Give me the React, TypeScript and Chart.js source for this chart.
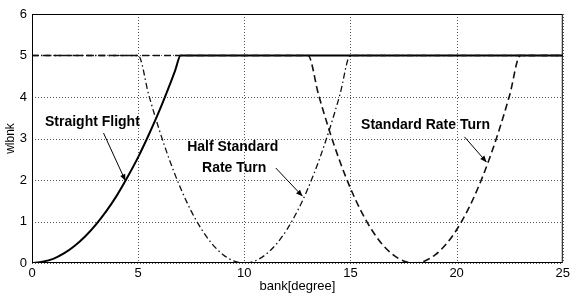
import React, { useEffect, useRef } from "react";
import { Chart, registerables } from "chart.js";
Chart.register(...registerables);

const straightX = [0, 0.5, 1, 1.5, 2, 2.5, 3, 3.5, 4, 4.5, 5, 5.5, 6, 6.5, 6.75, 7, 25];
const straightY = [0, 0.03, 0.1, 0.23, 0.41, 0.64, 0.92, 1.25, 1.63, 2.07, 2.55, 3.09, 3.67, 4.31, 4.65, 5, 5];

const halfX = [0, 5, 5.5, 6, 6.5, 7, 7.5, 8, 8.5, 9, 9.5, 10, 10.5, 11, 11.5, 12, 12.5, 13, 13.5, 14, 14.5, 15, 25];
const halfY = [5, 5, 4.05, 3.2, 2.45, 1.8, 1.25, 0.8, 0.45, 0.2, 0.05, 0, 0.05, 0.2, 0.45, 0.8, 1.25, 1.8, 2.45, 3.2, 4.05, 5, 5];

const stdX = [0, 13, 13.5, 14, 14.5, 15, 15.5, 16, 16.5, 17, 17.5, 18, 18.5, 19, 19.5, 20, 20.5, 21, 21.5, 22, 22.5, 23, 25];
const stdY = [5, 5, 4.05, 3.2, 2.45, 1.8, 1.25, 0.8, 0.45, 0.2, 0.05, 0, 0.05, 0.2, 0.45, 0.8, 1.25, 1.8, 2.45, 3.2, 4.05, 5, 5];

const xTicks = [0, 5, 10, 15, 20, 25];
const yTicks = [0, 1, 2, 3, 4, 5, 6];

const labelTexts = ["Straight Flight", "Half Standard", "Rate Turn", "Standard Rate Turn"];
const labelX = [0.61, 7.31, 8.01, 15.5];
const labelY = [3.4, 2.8, 2.29, 3.33];
const arrowFrom = [[3.37, 3.13], [11.48, 2.29], [20.37, 3.04]];
const arrowTo = [[4.4, 1.98], [12.74, 1.61], [21.41, 2.43]];

const pts = (xs: number[], ys: number[]) => xs.map((x, i) => ({ x, y: ys[i] }));

const FONT = "'Liberation Sans', Arial, sans-serif";

const gridPlugin = {
  id: "dotgrid",
  beforeDatasetsDraw(chart: any) {
    const { ctx, chartArea, scales } = chart;
    ctx.save();
    ctx.strokeStyle = "#555";
    ctx.lineWidth = 1;
    ctx.setLineDash([1, 2]);
    xTicks.forEach((v) => {
      const p = Math.round(scales.x.getPixelForValue(v)) + 0.5;
      ctx.beginPath();
      ctx.moveTo(p, chartArea.top);
      ctx.lineTo(p, chartArea.bottom);
      ctx.stroke();
    });
    yTicks.forEach((v) => {
      const p = Math.round(scales.y.getPixelForValue(v)) + 0.5;
      ctx.beginPath();
      ctx.moveTo(chartArea.left, p);
      ctx.lineTo(chartArea.right, p);
      ctx.stroke();
    });
    ctx.restore();
  },
};

const annotPlugin = {
  id: "annot",
  afterDatasetsDraw(chart: any) {
    const { ctx, chartArea, scales } = chart;
    const xs = scales.x, ys = scales.y;
    ctx.save();
    ctx.strokeStyle = "#000";
    ctx.lineWidth = 1;
    ctx.strokeRect(chartArea.left + 0.5, chartArea.top + 0.5, chartArea.right - chartArea.left - 1, chartArea.bottom - chartArea.top - 1);
    ctx.fillStyle = "#000";
    ctx.font = `bold 14px ${FONT}`;
    ctx.textBaseline = "middle";
    ctx.textAlign = "left";
    labelTexts.forEach((t, i) => {
      ctx.fillText(t, xs.getPixelForValue(labelX[i]), ys.getPixelForValue(labelY[i]));
    });
    ctx.lineWidth = 1;
    arrowFrom.forEach((f, i) => {
      const x1 = xs.getPixelForValue(f[0]), y1 = ys.getPixelForValue(f[1]);
      const x2 = xs.getPixelForValue(arrowTo[i][0]), y2 = ys.getPixelForValue(arrowTo[i][1]);
      ctx.beginPath();
      ctx.moveTo(x1, y1);
      ctx.lineTo(x2, y2);
      ctx.stroke();
      const a = Math.atan2(y2 - y1, x2 - x1);
      const L = 7, w = 0.4;
      ctx.beginPath();
      ctx.moveTo(x2, y2);
      ctx.lineTo(x2 - L * Math.cos(a - w), y2 - L * Math.sin(a - w));
      ctx.lineTo(x2 - L * Math.cos(a + w), y2 - L * Math.sin(a + w));
      ctx.closePath();
      ctx.fill();
    });
    ctx.restore();
  },
};

export default function App() {
  const ref = useRef<HTMLCanvasElement>(null);
  useEffect(() => {
    document.body.style.margin = "0";
    const chart = new Chart(ref.current!, {
      type: "scatter",
      data: {
        datasets: [
          {
            label: "Half Standard Rate Turn",
            data: pts(halfX, halfY),
            showLine: true,
            borderColor: "#111",
            borderWidth: 1.3,
            borderDash: [6, 3, 1.5, 3],
            pointRadius: 0,
            cubicInterpolationMode: "monotone",
          },
          {
            label: "Standard Rate Turn",
            data: pts(stdX, stdY),
            showLine: true,
            borderColor: "#111",
            borderWidth: 1.6,
            borderDash: [7, 4],
            pointRadius: 0,
            cubicInterpolationMode: "monotone",
          },
          {
            label: "Straight Flight",
            data: pts(straightX, straightY),
            showLine: true,
            borderColor: "#000",
            borderWidth: 2,
            pointRadius: 0,
            cubicInterpolationMode: "monotone",
          },
        ],
      },
      options: {
        animation: false,
        responsive: true,
        maintainAspectRatio: false,
        layout: { padding: { top: 14, right: 7, left: 3, bottom: 0 } },
        plugins: { legend: { display: false }, tooltip: { enabled: false } },
        scales: {
          x: {
            type: "linear",
            min: 0,
            max: 25,
            afterBuildTicks: (s: any) => { s.ticks = xTicks.map((v) => ({ value: v })); },
            afterFit: (s: any) => { s.height = 37; },
            ticks: { color: "#000", font: { family: FONT, size: 13 }, padding: 3 },
            grid: { display: false, drawTicks: false },
            border: { display: false },
            title: { display: true, text: "bank[degree]", color: "#000", font: { family: FONT, size: 13 }, padding: { top: 0, bottom: 6 } },
          },
          y: {
            type: "linear",
            min: 0,
            max: 6,
            afterBuildTicks: (s: any) => { s.ticks = yTicks.map((v) => ({ value: v })); },
            afterFit: (s: any) => { s.width = 29; },
            ticks: { color: "#000", font: { family: FONT, size: 13 }, padding: 5 },
            grid: { display: false, drawTicks: false },
            border: { display: false },
            title: { display: true, text: "wlbnk", color: "#000", font: { family: FONT, size: 12 }, padding: { top: 0, bottom: 0 } },
          },
        },
      },
      plugins: [gridPlugin, annotPlugin],
    });
    return () => chart.destroy();
  }, []);
  return (
    <div style={{ position: "absolute", left: 0, top: 0, width: 573, height: 300, background: "#fff" }}>
      <canvas ref={ref} />
    </div>
  );
}
